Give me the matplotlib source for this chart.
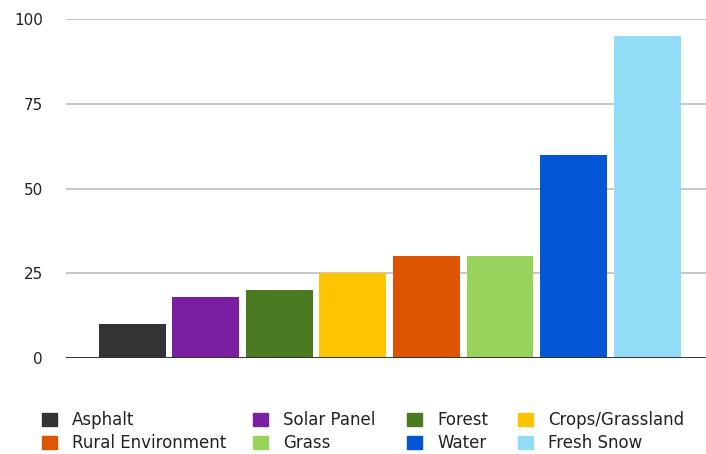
import numpy as np
import matplotlib.pyplot as plt
from matplotlib.patches import Patch

plt.rcParams['font.family'] = ['DejaVu Sans']

surfaces = ['Asphalt', 'Solar Panel', 'Forest', 'Crops/Grassland',
            'Rural Environment', 'Grass', 'Water', 'Fresh Snow']
albedo = [10, 18, 20, 25, 30, 30, 60, 95]
colors = ['#333333', '#7b1fa2', '#4a7a22', '#ffc400',
          '#dd5500', '#98d35c', '#0357d6', '#93dcf7']
yticks = [0, 25, 50, 75, 100]


def main():
    fig = plt.figure(figsize=(7.06, 4.54), dpi=100)
    ax = fig.add_axes([0.0935, 0.2115, 0.9065, 0.7465])
    x = np.arange(len(surfaces))
    ax.bar(x, albedo, width=0.91, color=colors, zorder=3)
    ax.set_xlim(-0.9, 7.8)
    ax.set_ylim(0, 100)
    ax.set_yticks(yticks)
    ax.set_xticks([])
    ax.grid(axis='y', color='#bdbdbd', linewidth=1.2, zorder=0)
    ax.axhline(0, color='#333333', linewidth=1.4, zorder=4)
    for s in ax.spines.values():
        s.set_visible(False)
    ax.tick_params(axis='y', length=0, pad=16.5, labelsize=11, labelcolor='#222222')

    # legend laid out row-wise in 4 columns, one legend per column
    col_x = [42, 253, 407, 518]
    for c in range(4):
        idx = [c, c + 4]
        handles = [Patch(color=colors[i], label=surfaces[i]) for i in idx]
        leg = fig.legend(handles=handles, loc='upper left',
                         bbox_to_anchor=(col_x[c] / 706, 1 - 411 / 454),
                         frameon=False, fontsize=12, handlelength=0.9,
                         handleheight=0.8, handletextpad=0.9,
                         labelspacing=0.3, borderaxespad=0, borderpad=0)
        for t in leg.get_texts():
            t.set_color('#222222')

    fig.savefig('out.png', dpi=100)


if __name__ == '__main__':
    main()
